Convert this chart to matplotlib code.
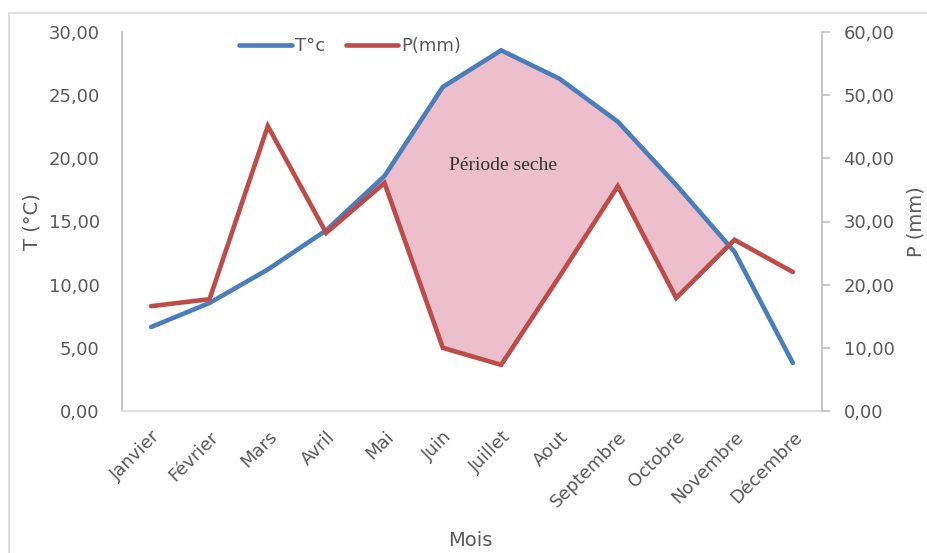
import matplotlib
matplotlib.use("Agg")
import matplotlib.pyplot as plt
import numpy as np
from matplotlib.patches import Rectangle
from matplotlib.ticker import FuncFormatter

months = ["Janvier", "Février", "Mars", "Avril", "Mai", "Juin", "Juillet",
          "Aout", "Septembre", "Octobre", "Novembre", "Décembre"]
temp = [6.65, 8.55, 11.2, 14.3, 18.6, 25.65, 28.55, 26.3, 22.9, 17.9, 12.6, 3.8]
precip = [16.6, 17.7, 45.1, 28.2, 36.1, 10.0, 7.3, 21.3, 35.6, 17.9, 27.1, 22.0]
fill_from = "Mai"

W, H = 928, 553
fig = plt.figure(figsize=(W / 100, H / 100), dpi=100)
fig.patches.append(Rectangle((9 / W, -0.1), 1.5, 1.1 - 13 / H, transform=fig.transFigure,
                             fill=False, edgecolor="#D9D9D9", linewidth=1.2))

ax = fig.add_axes([122 / W, 1 - 411 / H, 700 / W, 379 / H])
ax2 = ax.twinx()
ax.set_zorder(0)
ax2.set_zorder(1)
ax2.patch.set_visible(False)

x = np.arange(len(months))
t = np.array(temp)
p_half = np.array(precip) / 2.0
start = months.index(fill_from)
mask = (t >= p_half) & (x >= start)
ax.fill_between(x, p_half, t, where=mask, interpolate=True, color="#EDBFCC",
                linewidth=0, zorder=1)

blue = "#4A7EBB"
red = "#BE4B48"
l1, = ax.plot(x, temp, color=blue, lw=3.3, solid_capstyle="round",
              solid_joinstyle="miter", zorder=3, label="T°c")
l2, = ax2.plot(x, precip, color=red, lw=3.3, solid_capstyle="round",
               solid_joinstyle="miter", zorder=3, label="P(mm)")

ax.set_xlim(-0.5, len(months) - 0.5)
ax.set_ylim(0, 30)
ax2.set_ylim(0, 60)
ax.set_yticks(np.arange(0, 31, 5))
ax2.set_yticks(np.arange(0, 61, 10))
fmt = FuncFormatter(lambda v, pos: f"{v:.2f}".replace(".", ","))
ax.yaxis.set_major_formatter(fmt)
ax2.yaxis.set_major_formatter(fmt)

tc = "#595959"
ax.set_xticks(x)
ax.set_xticklabels(months, rotation=45, ha="right", rotation_mode="anchor",
                   fontsize=13, color=tc)
ax.tick_params(axis="x", length=0, pad=12)
ax.tick_params(axis="y", length=0, pad=16, labelsize=13, labelcolor=tc)
ax2.tick_params(axis="y", length=5.5, width=1.2, color="#BFBFBF", pad=10,
                labelsize=13, labelcolor=tc)

for s in ["top", "right"]:
    ax.spines[s].set_visible(False)
ax.spines["left"].set_color("#BFBFBF")
ax.spines["left"].set_linewidth(1.2)
ax.spines["bottom"].set_color("#D9D9D9")
ax.spines["bottom"].set_linewidth(1.2)
for s in ["top", "left", "bottom"]:
    ax2.spines[s].set_visible(False)
ax2.spines["right"].set_color("#BFBFBF")
ax2.spines["right"].set_linewidth(1.2)

ax.set_ylabel("T (°C)", fontsize=14, color=tc)
ax.yaxis.set_label_coords(-(122 - 42) / 700, 0.5)
ax2.set_ylabel("P (mm)", fontsize=14, color=tc)
ax2.yaxis.set_label_coords((907 - 122) / 700, 0.5)
fig.text(470 / W, 1 - 541 / H, "Mois", fontsize=14, color=tc,
         ha="center", va="center")

fig.text(503 / W, 1 - 166 / H, "Période seche", fontsize=14,
         family="Liberation Serif", color="#333333", ha="center", va="center")

leg = ax2.legend([l1, l2], ["T°c", "P(mm)"], loc="center",
                 bbox_to_anchor=(350 / W, 1 - 46 / H), bbox_transform=fig.transFigure,
                 ncol=2, frameon=False, fontsize=13, handlelength=2.9,
                 handletextpad=0.17, columnspacing=1.15, labelcolor=tc,
                 borderpad=0, borderaxespad=0)

fig.savefig("out.png", dpi=100)
